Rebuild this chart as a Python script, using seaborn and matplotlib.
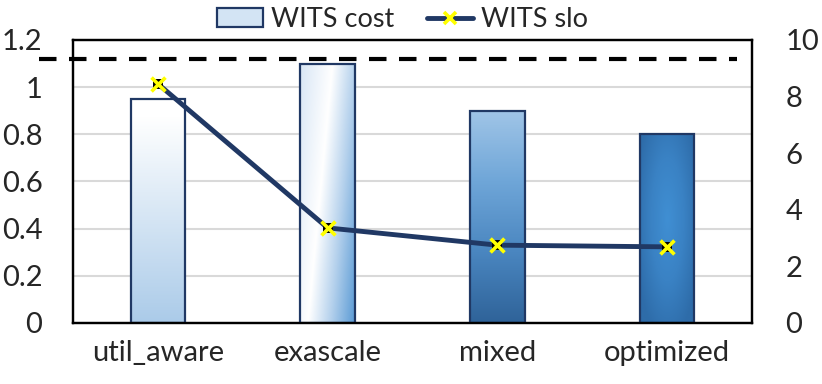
import numpy as np
import pandas as pd
import seaborn as sns
import matplotlib.pyplot as plt
from matplotlib.colors import LinearSegmentedColormap
from matplotlib.patches import Patch
from matplotlib.lines import Line2D

# chart values
categories = ['util_aware', 'exascale', 'mixed', 'optimized']
wits_cost = [0.95, 1.10, 0.90, 0.80]
wits_slo = [8.45, 3.36, 2.75, 2.69]
slo_target = 1.12  # dashed reference line, left axis

NAVY = '#203864'

sns.set_theme(style='white')
plt.rcParams['font.family'] = ['Lato', 'DejaVu Sans']

df = pd.DataFrame({'category': categories, 'cost': wits_cost, 'slo': wits_slo})


def bar_gradient(kind, n=200):
    """Return an RGBA image (top row first) for one bar fill."""
    u = np.linspace(0, 1, n)[None, :].repeat(n, axis=0)  # left -> right
    v = np.linspace(0, 1, n)[:, None].repeat(n, axis=1)  # top -> bottom
    if kind == 'vertical_light':
        cmap = LinearSegmentedColormap.from_list('a', [(0, '#ffffff'), (0.08, '#ffffff'),
                                                       (1, '#abcbe9')])
        t = v
    elif kind == 'diagonal':
        cmap = LinearSegmentedColormap.from_list('b', [(0, '#d8e6f5'), (0.41, '#ffffff'),
                                                       (0.7, '#b3d0ec'), (1, '#5b9bd5')])
        t = (u + 0.45 * v) / 1.45
    elif kind == 'vertical_dark':
        cmap = LinearSegmentedColormap.from_list('c', ['#a0c5e7', '#6fa6d8', '#4a86c0', '#2f6399'])
        t = v
    else:
        cmap = LinearSegmentedColormap.from_list('d', ['#408fd3', '#3a82c4', '#2e6ca9'])
        t = np.clip(np.sqrt(((u - 0.5) / 0.5) ** 2 + ((v - 0.45) / 0.55) ** 2) / 1.2, 0, 1)
    return cmap(t)


fig = plt.figure(figsize=(8.22, 3.84), dpi=100)
ax = fig.add_axes([0.0888, 0.1589, 0.826, 0.737])

sns.barplot(data=df, x='category', y='cost', ax=ax, width=0.32, color='white',
            edgecolor=NAVY, linewidth=1.6, zorder=3)

fills = ['vertical_light', 'diagonal', 'vertical_dark', 'radial']
for patch, kind in zip(ax.patches, fills):
    x0, y0 = patch.get_x(), patch.get_y()
    w, h = patch.get_width(), patch.get_height()
    patch.set_facecolor('none')
    img = ax.imshow(bar_gradient(kind), extent=[x0, x0 + w, y0, y0 + h],
                    aspect='auto', origin='upper', zorder=2.5)
    img.set_clip_path(patch)

ax.set_xlim(-0.5, len(categories) - 0.5)
ax.set_ylim(0, 1.2)
ax.set_yticks(np.arange(0, 1.21, 0.2))
ax.set_yticklabels(['0', '0.2', '0.4', '0.6', '0.8', '1', '1.2'])
ax.yaxis.grid(True, color='#d9d9d9', linewidth=1.5)
ax.set_axisbelow(True)
ax.set_xlabel('')
ax.set_ylabel('')
ax.tick_params(axis='y', length=0, pad=22, labelsize=21)
ax.tick_params(axis='x', length=0, pad=12, labelsize=21)

# dashed target line, runs past the left spine
ax.plot([-0.05, 0.978], [slo_target, slo_target], transform=ax.get_yaxis_transform(),
        color='black', linewidth=3, linestyle=(0, (4.2, 3)), clip_on=False, zorder=4)

ax2 = ax.twinx()
sns.lineplot(data=df, x='category', y='slo', ax=ax2, color=NAVY, linewidth=3.5,
             sort=False, zorder=3)
sns.scatterplot(data=df, x='category', y='slo', ax=ax2, marker='s', color='black',
                s=60, linewidth=0, zorder=4)
sns.scatterplot(data=df, x='category', y='slo', ax=ax2, marker='x', color='#ffff00',
                s=100, linewidth=2.6, zorder=5)
ax2.set_ylim(0, 10)
ax2.set_yticks(np.arange(0, 11, 2))
ax2.set_ylabel('')
ax2.tick_params(axis='y', length=0, pad=24, labelsize=21)
ax2.grid(False)

for a in (ax, ax2):
    for sp in a.spines.values():
        sp.set_color('black')
        sp.set_linewidth(1.6)

handles = [
    Patch(facecolor='#d3e4f4', edgecolor=NAVY, linewidth=1.6),
    Line2D([], [], color=NAVY, linewidth=3.5, marker='x', markersize=9,
           markeredgecolor='#ffff00', markeredgewidth=2.6),
]
fig.legend(handles, ['WITS cost', 'WITS slo'], loc='upper center',
           bbox_to_anchor=(0.49, 1.045), ncol=2, frameon=False, fontsize=19.5,
           handlelength=1.7, handletextpad=0.3, columnspacing=1.2)

fig.savefig('out.png', dpi=100)
